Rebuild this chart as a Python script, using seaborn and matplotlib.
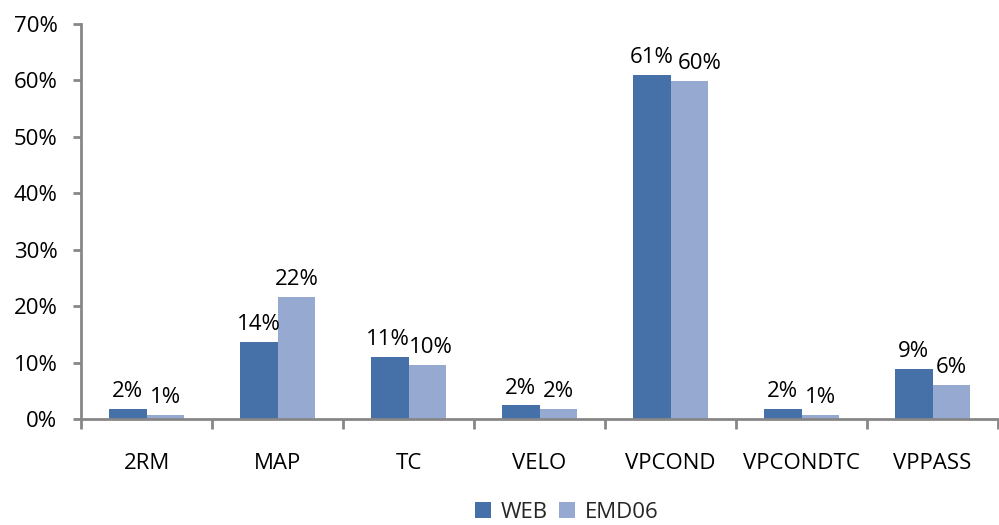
import matplotlib
matplotlib.use("Agg")
import matplotlib.pyplot as plt
import seaborn as sns
import pandas as pd
from matplotlib.ticker import FuncFormatter, FixedLocator

categories = ["2RM", "MAP", "TC", "VELO", "VPCOND", "VPCONDTC", "VPPASS"]
web = [1.8, 13.6, 11.0, 2.4, 61.0, 1.8, 8.9]
emd06 = [0.7, 21.6, 9.6, 1.8, 59.9, 0.7, 6.0]
series = ["WEB", "EMD06"]
colors = ["#4571A8", "#95A9D1"]

df = pd.DataFrame({
    "cat": categories * 2,
    "val": web + emd06,
    "series": [series[0]] * len(categories) + [series[1]] * len(categories),
})

sns.set_style("white")
plt.rcParams["font.family"] = ["Open Sans", "DejaVu Sans"]
FS = 16

fig = plt.figure(figsize=(9.99, 5.25), dpi=100)
ax = fig.add_axes([81 / 999, 1 - 419 / 525, 1 - 81 / 999 - 0.001, (419 - 24) / 525])

sns.barplot(data=df, x="cat", y="val", hue="series", palette=colors,
            width=0.58, gap=0, ax=ax, saturation=1, legend=True, linewidth=0)

# small horizontal nudges (pixels) that keep neighbouring labels apart
nudges = {(0, "TC"): -2, (1, "TC"): 3, (1, "VPCOND"): 10}
for ci, cont in enumerate(ax.containers):
    texts = ax.bar_label(cont, labels=[f"{v:.0f}%" for v in cont.datavalues],
                         padding=5, fontsize=FS, color="black")
    for (s, cat), dx in nudges.items():
        if s == ci:
            i = categories.index(cat)
            x, y = texts[i].xyann
            texts[i].xyann = (x + dx * 0.72, y)

ax.set_ylim(0, 70)
ax.set_xlim(-0.5, 6.5)
ax.set_yticks(range(0, 71, 10))
ax.yaxis.set_major_formatter(FuncFormatter(lambda v, p: f"{v:.0f}%"))
ax.set_xlabel("")
ax.set_ylabel("")

for s in ["top", "right"]:
    ax.spines[s].set_visible(False)
for s in ["left", "bottom"]:
    ax.spines[s].set_color("#878787")
    ax.spines[s].set_linewidth(2)

ax.tick_params(axis="y", which="major", left=True, length=6, width=2,
               color="#878787", labelsize=FS, labelcolor="black", pad=11)
ax.tick_params(axis="x", which="major", bottom=False, labelsize=FS,
               labelcolor="black", pad=21)
ax.xaxis.set_minor_locator(FixedLocator([i + 0.5 for i in range(-1, len(categories))]))
ax.tick_params(axis="x", which="minor", bottom=True, length=7, width=2,
               color="#878787")

handles, labels = ax.get_legend_handles_labels()
leg = ax.legend(handles, labels, loc="center", bbox_to_anchor=(567 / 999, 13 / 525),
                bbox_transform=fig.transFigure, ncol=2, frameon=False,
                fontsize=FS, handlelength=0.7, handleheight=0.7,
                handletextpad=0.45, columnspacing=0.5)

fig.savefig("out.png", dpi=100)
